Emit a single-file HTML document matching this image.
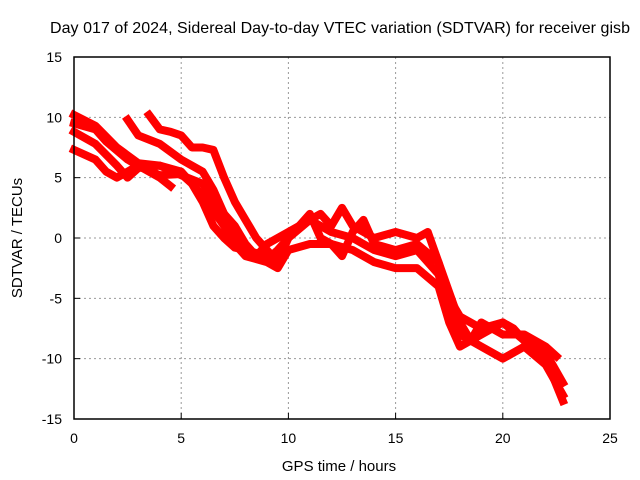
<!DOCTYPE html>
<html><head><meta charset="utf-8"><style>
body{margin:0;background:#fff}
svg{display:block;font-family:"Liberation Sans",sans-serif}
</style></head><body>
<svg width="640" height="480" id="c">
<text x="340" y="33" font-size="16" text-anchor="middle" textLength="580">Day 017 of 2024, Sidereal Day-to-day VTEC variation (SDTVAR) for receiver gisb</text>
<text x="339" y="471" font-size="15" text-anchor="middle">GPS time / hours</text>
<text transform="translate(22,238) rotate(-90)" font-size="15" text-anchor="middle">SDTVAR / TECUs</text>
<g id="grid"></g><g id="series"></g>
<rect x="74" y="57" width="536" height="362" fill="none" stroke="#000" stroke-width="1.5"/>
</svg>
<script>
const xTicks=[0,5,10,15,20,25];
const yTicks=[15,10,5,0,-5,-10,-15];
const track1=[[0,10.2],[1,9.3],[2,7.5],[3,6.2],[4,6],[5,5.2],[6,4.5],[7,2],[7.5,0],[8,-1.2],[9,-1.8],[9.5,-1],[10,0],[11,1.5],[12,0.5],[13,0],[14,-1],[15,-1.5],[16,-1],[17,-3],[17.5,-6],[18,-8],[19,-9],[20,-10],[21,-9],[22,-10.5],[22.8,-13]];
const track2=[[0,8.8],[1,7.8],[2,6],[2.5,5],[3,5.8],[4,6],[5,5.5],[6,3.5],[7,1],[7.5,-0.5],[8,-1.5],[9,-2],[9.5,-2.5],[10,-1],[11,-0.5],[12,-0.5],[13,-1],[14,-2],[15,-2.5],[16,-2.5],[17,-4],[17.5,-7],[18,-9],[19,-8],[20,-7],[21,-8.5],[22,-10],[22.8,-13.5]];
const track3=[[0,7.3],[1,6.5],[1.5,5.5],[2,5],[3,6],[3.5,5.5],[4,5],[4.5,4.3]];
const track4=[[0,9.5],[1,9],[1.5,8],[2.5,6.5],[3,6],[4,5.2],[5,5.3],[5.5,4.5],[6,3],[6.5,1],[7,0],[7.5,-0.8],[8,-1],[9,-1.5]];
const track5=[[2.5,9.8],[3,8.5],[4,7.8],[5,6.5],[5.5,6],[6,5.5],[6.5,4],[7,2],[7.5,1],[8,-0.5],[8.5,-1.5],[9,-0.5],[10,0.5],[11,1.5],[11.5,2],[12,1],[12.5,2.5],[13,1],[14,0],[15,0.5],[16,0],[16.5,0.5],[17,-2],[17.5,-4.5],[18,-7],[18.5,-8.5],[19,-7],[19.5,-7.5],[20,-8],[21,-8],[22,-9],[22.5,-9.8]];
const track6=[[3.5,10.2],[4,9],[4.5,8.8],[5,8.5],[5.5,7.5],[6,7.5],[6.5,7.3],[7,5],[7.5,3],[8,1.5],[8.5,0],[9,-1],[9.5,-2],[10,0],[11,2],[11.5,0],[12,-0.5],[12.5,-1.5],[13,0.5],[13.5,1.5],[14,-0.5],[15,-1],[16,-0.5],[17,-2],[17.5,-5],[18,-6.5],[18.5,-7],[19,-7.5],[20,-7],[20.5,-7.5],[21,-8.5],[22,-9.5],[22.8,-12]];
const tracks=[track1,track2,track3,track4,track5,track6];
const NS="http://www.w3.org/2000/svg";
const X=v=>74+v*(536/25), Y=v=>238-v*(362/30);
const g=document.getElementById('grid');
function mk(t,a,p){const e=document.createElementNS(NS,t);for(const k in a)e.setAttribute(k,a[k]);p.appendChild(e);return e;}
xTicks.forEach(t=>{
 if(t>0&&t<25){const l=mk('line',{x1:X(t),x2:X(t),y1:57,y2:419,stroke:'#999','stroke-dasharray':'2,3'},g);
 
 }
 const s=mk('text',{x:X(t),y:443,'font-size':14,'text-anchor':'middle'},g);s.textContent=t;
 
 
 mk('line',{x1:X(t),x2:X(t),y1:419,y2:413,stroke:'#000'},g);
});
yTicks.forEach(t=>{
 if(t<15&&t>-15){const l=mk('line',{x1:74,x2:610,y1:Y(t),y2:Y(t),stroke:'#999','stroke-dasharray':'2,3'},g);
 
 }
 const s=mk('text',{x:62,y:Y(t)+5,'font-size':14,'text-anchor':'end'},g);s.textContent=t;
 
 
 mk('line',{x1:74,x2:80,y1:Y(t),y2:Y(t),stroke:'#000'},g);
});
const sg=document.getElementById('series');
tracks.forEach((tr,i)=>{
 const p=mk('polyline',{points:tr.map(d=>X(d[0])+','+Y(d[1])).join(' '),fill:'none',stroke:'#f00','stroke-width':8,'stroke-linejoin':'round','stroke-linecap':'square'},sg);
 
 
});
</script>
</body></html>
